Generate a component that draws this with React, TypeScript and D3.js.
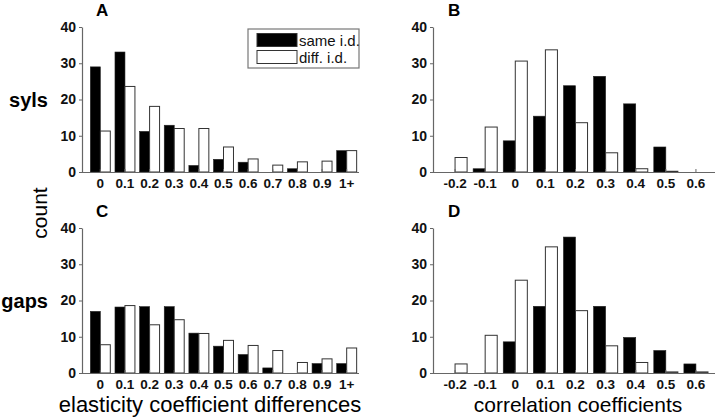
import React, { useEffect, useRef } from 'react';
import { select, scaleBand, scaleLinear, axisBottom, axisLeft } from 'd3';

// categories
const elasticityBins = ['0', '0.1', '0.2', '0.3', '0.4', '0.5', '0.6', '0.7', '0.8', '0.9', '1+'];
const correlationBins = ['-0.2', '-0.1', '0', '0.1', '0.2', '0.3', '0.4', '0.5', '0.6'];
const yTicks = [0, 10, 20, 30, 40];

// A: syls, elasticity coefficient differences
const sylsElastSame = [29, 33.1, 11.2, 12.9, 1.8, 3.5, 2.7, 0, 0.9, 0, 5.9];
const sylsElastDiff = [11.3, 23.6, 18.1, 12, 12, 6.9, 3.6, 1.9, 2.8, 3, 5.9];
// B: syls, correlation coefficients
const sylsCorrSame = [0, 0.9, 8.6, 15.4, 23.8, 26.4, 18.8, 6.9, 0];
const sylsCorrDiff = [4, 12.4, 30.6, 33.7, 13.6, 5.3, 0.9, 0.2, 0];
// C: gaps, elasticity coefficient differences
const gapsElastSame = [17, 18.2, 18.3, 18.3, 11, 7.4, 5.1, 1.4, 0, 2.6, 2.6];
const gapsElastDiff = [7.8, 18.6, 13.3, 14.7, 10.9, 9, 7.6, 6.2, 2.9, 3.9, 6.9];
// D: gaps, correlation coefficients
const gapsCorrSame = [0, 0, 8.6, 18.4, 37.5, 18.4, 9.8, 6.2, 2.5];
const gapsCorrDiff = [2.5, 10.4, 25.6, 34.8, 17.2, 7.5, 2.9, 0.3, 0.3];

const seriesNames = ['same i.d.', 'diff. i.d.'];

const FONT = '"Liberation Sans", Arial, Helvetica, sans-serif';
const AXIS_COLOR = '#666';

function drawPanel(g, opts) {
  const { cats, same, diff, x0, x1, axisX, axisEnd, yBottom, yTop, letter } = opts;

  const x = scaleBand().domain(cats).range([x0, x1]).paddingInner(opts.pad).paddingOuter(opts.pad / 2);
  const xSub = scaleBand().domain(['same', 'diff']).range([0, x.bandwidth()]);
  const y = scaleLinear().domain([0, 40]).range([yBottom, yTop]);

  // bars
  const rows = cats.map((c, i) => ({ c, same: same[i], diff: diff[i] }));
  const grp = g.append('g');
  grp.selectAll('rect.same')
    .data(rows.filter(d => d.same > 0))
    .enter().append('rect')
      .attr('x', d => x(d.c) + xSub('same'))
      .attr('y', d => y(d.same))
      .attr('width', xSub.bandwidth())
      .attr('height', d => y(0) - y(d.same))
      .attr('fill', '#000')
      .attr('stroke', '#222')
      .attr('stroke-width', 0.6);
  grp.selectAll('rect.diff')
    .data(rows.filter(d => d.diff > 0))
    .enter().append('rect')
      .attr('x', d => x(d.c) + xSub('diff'))
      .attr('y', d => y(d.diff))
      .attr('width', xSub.bandwidth())
      .attr('height', d => y(0) - y(d.diff))
      .attr('fill', '#fff')
      .attr('stroke', '#333')
      .attr('stroke-width', 1);

  // x axis
  const xAxis = axisBottom(x).tickSizeInner(-3).tickSizeOuter(0).tickPadding(6);
  const xg = g.append('g').attr('transform', `translate(0,${yBottom})`).call(xAxis);
  xg.select('.domain').remove();
  xg.selectAll('line').attr('stroke', AXIS_COLOR);
  xg.selectAll('text').attr('font-size', 13.5).attr('font-weight', 'bold').attr('font-family', FONT).attr('fill', '#111');
  g.append('line')
    .attr('x1', axisX).attr('x2', axisEnd)
    .attr('y1', yBottom + 0.5).attr('y2', yBottom + 0.5)
    .attr('stroke', AXIS_COLOR).attr('stroke-width', 1.2);

  // y axis
  const yAxis = axisLeft(y).tickValues(yTicks).tickSizeInner(3).tickSizeOuter(0).tickPadding(3);
  const yg = g.append('g').attr('transform', `translate(${axisX},0)`).call(yAxis);
  yg.select('.domain').attr('stroke', AXIS_COLOR).attr('stroke-width', 1.2);
  yg.selectAll('line').attr('stroke', AXIS_COLOR);
  yg.selectAll('text').attr('font-size', 14).attr('font-weight', 'bold').attr('font-family', FONT).attr('fill', '#111');

  // panel letter
  g.append('text')
    .attr('x', opts.letterX).attr('y', yTop - 11)
    .attr('font-size', 17).attr('font-weight', 'bold').attr('font-family', FONT)
    .text(letter);
}

export default function App() {
  const svgRef = useRef(null);

  useEffect(() => {
    const svg = select(svgRef.current);
    svg.selectAll('*').remove();
    const g = svg.append('g');

    const left = { x0: 88, x1: 359, axisX: 82, axisEnd: 359, pad: 0.19, cats: elasticityBins, letterX: 96 };
    const right = { x0: 440, x1: 711, axisX: 433, axisEnd: 715, pad: 0.2, cats: correlationBins, letterX: 448 };
    const top = { yBottom: 172, yTop: 27 };
    const bottom = { yBottom: 373, yTop: 228 };

    drawPanel(g, { ...left, ...top, same: sylsElastSame, diff: sylsElastDiff, letter: 'A' });
    drawPanel(g, { ...right, ...top, same: sylsCorrSame, diff: sylsCorrDiff, letter: 'B' });
    drawPanel(g, { ...left, ...bottom, same: gapsElastSame, diff: gapsElastDiff, letter: 'C' });
    drawPanel(g, { ...right, ...bottom, same: gapsCorrSame, diff: gapsCorrDiff, letter: 'D' });

    // legend in panel A
    const lg = g.append('g').attr('transform', 'translate(248,29)');
    lg.append('rect').attr('width', 111).attr('height', 39)
      .attr('fill', '#fff').attr('stroke', '#777').attr('stroke-width', 1.2);
    seriesNames.forEach((name, i) => {
      lg.append('rect')
        .attr('x', 9).attr('y', 4.5 + i * 17).attr('width', 40).attr('height', 13)
        .attr('fill', i === 0 ? '#000' : '#fff').attr('stroke', '#333').attr('stroke-width', 1);
      lg.append('text')
        .attr('x', 51).attr('y', 16.5 + i * 17)
        .attr('font-size', 15).attr('font-family', FONT).attr('fill', '#111')
        .text(name);
    });

    // row labels
    g.append('text').attr('x', 48).attr('y', 107).attr('text-anchor', 'end')
      .attr('font-size', 20).attr('font-weight', 'bold').attr('font-family', FONT).text('syls');
    g.append('text').attr('x', 48).attr('y', 308).attr('text-anchor', 'end')
      .attr('font-size', 20).attr('font-weight', 'bold').attr('font-family', FONT).text('gaps');
    g.append('text').attr('transform', 'translate(47,213) rotate(-90)').attr('text-anchor', 'middle')
      .attr('font-size', 21).attr('font-family', FONT).text('count');

    // axis titles
    g.append('text').attr('x', 210).attr('y', 412).attr('text-anchor', 'middle')
      .attr('font-size', 22).attr('font-family', FONT).text('elasticity coefficient differences');
    g.append('text').attr('x', 578).attr('y', 412).attr('text-anchor', 'middle')
      .attr('font-size', 21).attr('font-family', FONT).text('correlation coefficients');
  }, []);

  return (
    <div>
      <svg ref={svgRef} width={720} height={419}
        style={{ position: 'absolute', left: 0, top: 0, background: '#fff' }} />
    </div>
  );
}
